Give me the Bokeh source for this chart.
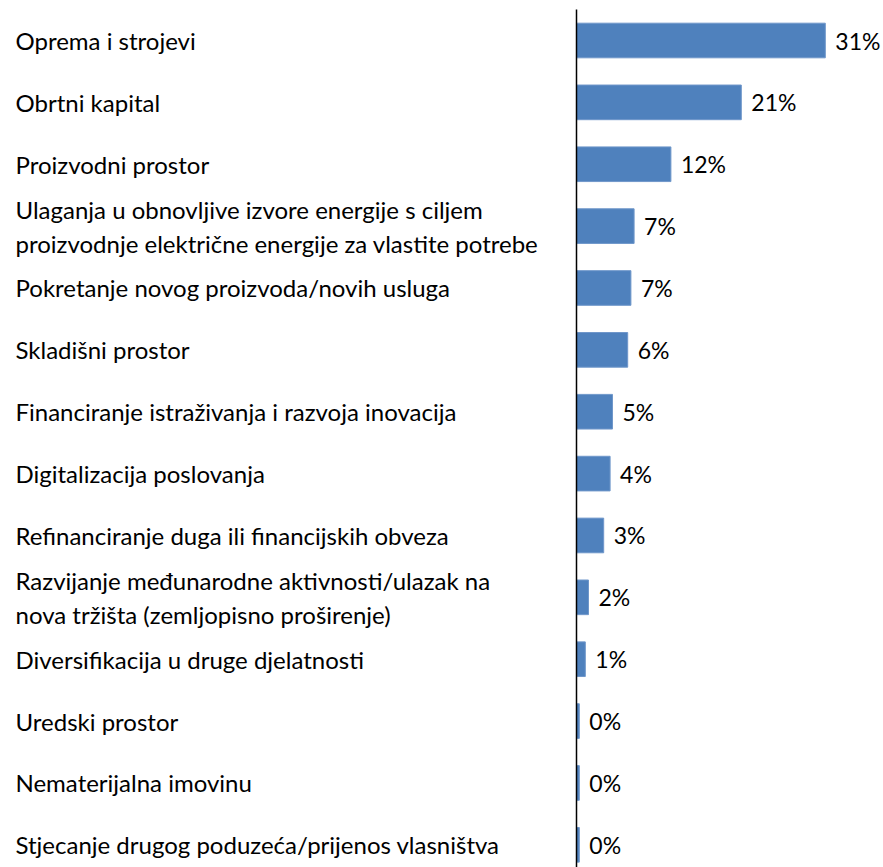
from bokeh.plotting import figure
from bokeh.models import ColumnDataSource, Range1d
from bokeh.core.properties import value
from bokeh.embed import file_html
from bokeh.resources import INLINE

categories = [
    "Oprema i strojevi",
    "Obrtni kapital",
    "Proizvodni prostor",
    "Ulaganja u obnovljive izvore energije s ciljem\nproizvodnje električne energije za vlastite potrebe",
    "Pokretanje novog proizvoda/novih usluga",
    "Skladišni prostor",
    "Financiranje istraživanja i razvoja inovacija",
    "Digitalizacija poslovanja",
    "Refinanciranje duga ili financijskih obveza",
    "Razvijanje međunarodne aktivnosti/ulazak na\nnova tržišta (zemljopisno proširenje)",
    "Diversifikacija u druge djelatnosti",
    "Uredski prostor",
    "Nematerijalna imovinu",
    "Stjecanje drugog poduzeća/prijenos vlasništva",
]
values = [31.1, 20.6, 11.8, 7.2, 6.8, 6.4, 4.5, 4.2, 3.4, 1.5, 1.1, 0.35, 0.35, 0.35]
value_labels = ["31%", "21%", "12%", "7%", "7%", "6%", "5%", "4%", "3%", "2%", "1%", "0%", "0%", "0%"]

W, H = 883, 867
axis_px = 576      # pixel of x=0 inside the frame
px_per_unit = 8.0
band_px = 61.87
first_center_px = 40.0

x_start = -axis_px / px_per_unit
x_end = (W - axis_px) / px_per_unit
y_top = -first_center_px / band_px
y_bottom = (H - first_center_px) / band_px

idx = list(range(len(categories)))
src = ColumnDataSource(dict(y=idx, v=values, lab=value_labels, cat=categories,
                            xl=[x_start] * len(idx)))

p = figure(width=W, height=H, output_backend="svg", toolbar_location=None,
           x_range=Range1d(x_start, x_end), y_range=Range1d(y_bottom, y_top),
           x_axis_type=None, y_axis_type=None, min_border=0)
p.outline_line_color = None
p.grid.visible = False
p.background_fill_color = "white"

p.hbar(y="y", left=0, right="v", height=0.56, source=src,
       fill_color="#4F81BD", line_color="#6F97CA", line_width=1)

p.segment(x0=0, y0=-0.5, x1=0, y1=y_bottom + 1, line_color="#000000", line_width=1.5)

p.text(x="v", y="y", text="lab", source=src, x_offset=10,
       text_font=value("Lato"), text_font_size="23px", text_color="#000000",
       text_baseline="middle", text_align="left")

p.text(x="xl", y="y", text="cat", source=src, x_offset=15,
       text_font=value("Lato"), text_font_size="24px", text_color="#000000",
       text_baseline="middle", text_align="left", text_line_height=1.17)

open("out.html", "w").write(file_html(p, INLINE))
